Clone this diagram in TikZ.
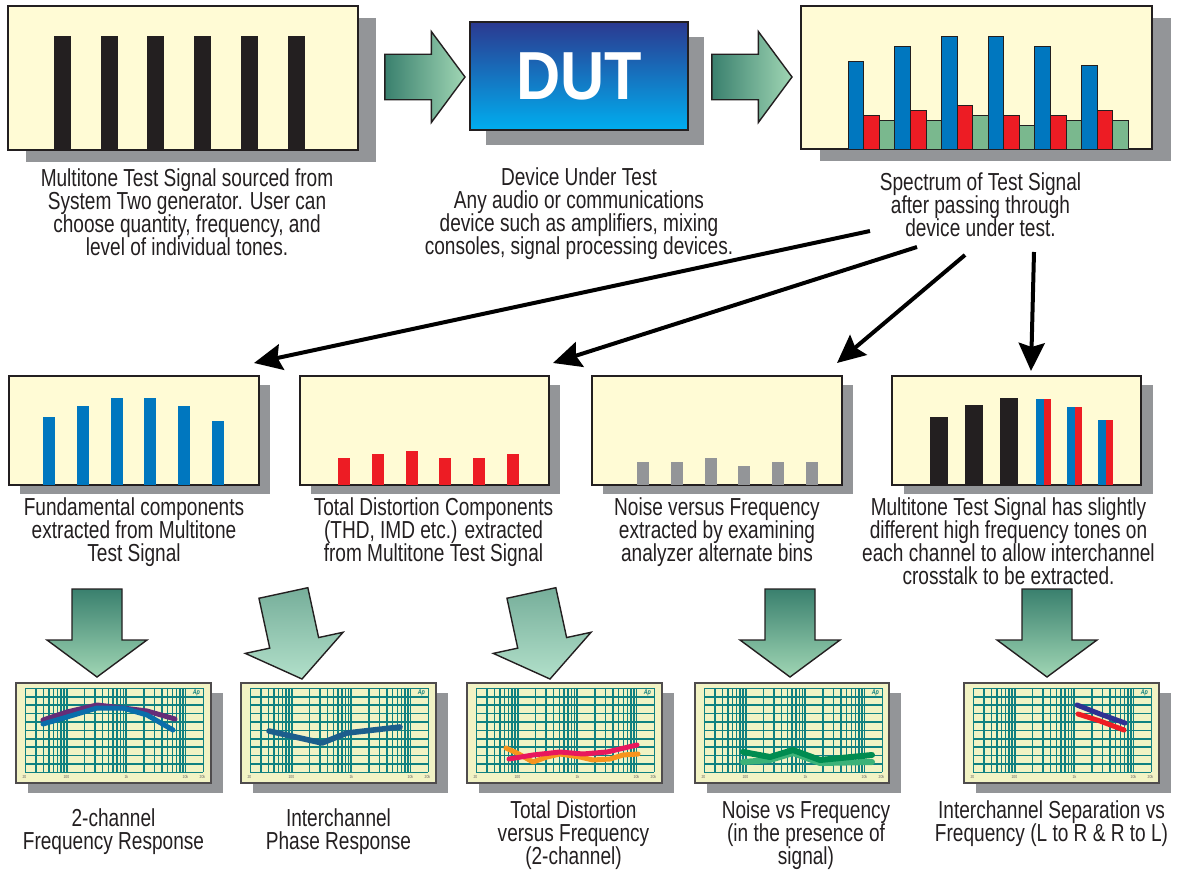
\documentclass[tikz,border=0pt]{standalone}
\usepackage{fontspec}
\setmainfont{Liberation Sans}[FakeStretch=0.775]
\newfontfamily\dutfont{Liberation Sans}[FakeStretch=0.9]
\usetikzlibrary{arrows.meta,positioning,fit,shadows}

\definecolor{panelfill}{RGB}{255,251,213}
\definecolor{shadowgray}{RGB}{147,149,152}
\definecolor{inkgray}{RGB}{35,31,32}
\definecolor{toneblue}{RGB}{0,119,191}
\definecolor{tonered}{RGB}{237,28,36}
\definecolor{tonegreen}{RGB}{122,184,142}
\definecolor{chartfill}{RGB}{242,243,196}
\definecolor{gridteal}{RGB}{16,128,128}
\definecolor{dutdark}{RGB}{43,57,144}
\definecolor{dutmid}{RGB}{0,110,185}
\definecolor{dutlight}{RGB}{0,174,239}
\definecolor{arrowdark}{RGB}{58,128,110}
\definecolor{arrowlight}{RGB}{160,214,180}
\definecolor{tiltdark}{RGB}{118,174,154}
\definecolor{tiltlight}{RGB}{178,224,202}
\definecolor{tracepurple}{RGB}{102,45,120}
\definecolor{traceblue}{RGB}{10,110,170}
\definecolor{phaseblue}{RGB}{28,94,140}
\definecolor{traceorange}{RGB}{247,148,29}
\definecolor{tracepink}{RGB}{232,23,93}
\definecolor{tracegreen}{RGB}{0,140,80}
\definecolor{tracelime}{RGB}{60,178,120}
\definecolor{tracenavy}{RGB}{46,49,146}

% block arrow: tip, direction, size, shading
\newcommand{\blockarrow}[4]{%
  \shadedraw[blockarrow, #4, shift={#1}, rotate=#2, scale=#3]
    (0,0) -- (-37,50) -- (-37,25) -- (-88,25) -- (-88,-25) -- (-37,-25) -- (-37,-50) -- cycle;}

% log grid of an analyzer plot, drawn inside chart node #1
\newcommand{\chartgrid}[1]{%
  \begin{scope}[shift={(#1.north west)}]
    \foreach \k in {0,...,10}
      \draw[gridline] (10,{6+8.4*\k}) -- (188,{6+8.4*\k});
    \foreach \d in {1,2,3,4}
      \foreach \m in {1,...,9} {
        \pgfmathsetmacro{\gx}{10+178*(\d-1.30103+log10(\m))/3}
        \ifdim\gx pt>9pt \ifdim\gx pt<189pt
          \draw[gridline] (\gx,6) -- (\gx,90);
        \fi\fi
      }
    \node[logo] (#1-ap) at (181,10) {Ap};
    \node[ticklabel] (#1-t1) at (9,95) {20};
    \node[ticklabel] (#1-t2) at (51,95) {100};
    \node[ticklabel] (#1-t3) at (111,95) {1k};
    \node[ticklabel] (#1-t4) at (170,95) {10k};
    \node[ticklabel] (#1-t5) at (187,95) {20k};
  \end{scope}}

\begin{document}
\lineskiplimit=-100pt
\begin{tikzpicture}
[x=0.5pt, y=-0.5pt, font=\fontsize{12.3}{11.4}\selectfont, text=inkgray,
% STYLES
panel/.style={rectangle, draw=inkgray, line width=0.6pt, fill=panelfill, inner sep=0pt},
chartbox/.style={rectangle, draw=inkgray!80, line width=0.6pt, fill=chartfill, inner sep=0pt},
dutbox/.style={rectangle, draw=inkgray, line width=0.6pt, inner sep=0pt, top color=dutdark, middle color=dutmid, bottom color=dutlight},
dutlabel/.style={inner sep=0pt, text=white, font={\dutfont\bfseries\fontsize{34}{34}\selectfont}},
% gray shadow behind every box
boxshadow/.style 2 args={drop shadow={shadow xshift=#1, shadow yshift=#2, fill=shadowgray, opacity=1}},
caption/.style={align=center, inner sep=0pt},
blockarrow/.style={draw=inkgray, line width=0.7pt, line join=miter},
signal/.style={-{Stealth[length=14pt, width=13pt, inset=2pt]}, line width=2pt, draw=black},
specbar/.style={draw=inkgray, line width=0.4pt},
gridline/.style={draw=gridteal, line width=0.75pt},
trace/.style={line width=2.5pt, line join=round, line cap=round},
logo/.style={inner sep=0pt, text=gridteal, font=\fontsize{3.5}{4}\selectfont\bfseries\itshape},
ticklabel/.style={inner sep=0pt, text=inkgray!70, font=\fontsize{2.2}{3}\selectfont}]

\useasboundingbox (0,0) rectangle (1178,871);

% Top row
\node [panel, boxshadow={9pt}{-6pt}, fit={(8,6) (358,150)}] (source) {};
\node [dutbox, boxshadow={8pt}{-7.5pt}, fit={(470,22) (688,130)}] (dut) {};
\node [dutlabel] (dut-label) at (dut.center) {DUT};
\node [panel, boxshadow={9.5pt}{-6pt}, fit={(801,6) (1152,149)}] (spectrum) {};

\foreach \i in {0,...,5}
  \fill[inkgray] ({54+46.7*\i},36) rectangle ({71+46.7*\i},150);

\foreach \i/\b/\r/\g in {0/61/115/120, 1/46/110/120, 2/36/105/115, 3/36/115/125, 4/46/115/120, 5/65/110/120} {
  \draw[specbar, fill=toneblue] ({848+46.7*\i},\b) rectangle ({863.6+46.7*\i},149);
  \draw[specbar, fill=tonered] ({863.6+46.7*\i},\r) rectangle ({879.2+46.7*\i},149);
  \draw[specbar, fill=tonegreen] ({879.2+46.7*\i},\g) rectangle ({894.8+46.7*\i},149);
}

\node [caption, below=9pt of source, xshift=2pt] (source-text) {Multitone Test Signal sourced from\\
System Two generator. User can\\
choose quantity, frequency, and\\
level of individual tones.};
\node [caption, below=18.5pt of dut] (dut-text) {Device Under Test\\
Any audio or communications\\
device such as amplifiers, mixing\\
consoles, signal processing devices.};
\node [caption, below=11.5pt of spectrum, xshift=2pt] (spectrum-text) {Spectrum of Test Signal\\
after passing through\\
device under test.};

\blockarrow{(465,77)}{0}{0.91}{left color=arrowdark, right color=arrowlight}
\blockarrow{(792,77)}{0}{0.91}{left color=arrowdark, right color=arrowlight}

% Middle row
\node [panel, boxshadow={5.5pt}{-4.5pt}, fit={(9,376) (259,485)}] (fundamental) {};
\node [panel, boxshadow={5.5pt}{-4.5pt}, fit={(300,376) (549,485)}] (distortion) {};
\node [panel, boxshadow={5.5pt}{-4.5pt}, fit={(592,376) (842,485)}] (noise) {};
\node [panel, boxshadow={6pt}{-4.5pt}, fit={(892,376) (1141,485)}] (crosstalk) {};

\foreach \i/\t in {0/417, 1/406, 2/398, 3/398, 4/406, 5/421}
  \fill[toneblue] ({43+33.8*\i},\t) rectangle ({55+33.8*\i},485);
\foreach \i/\t in {0/458, 1/454, 2/451, 3/458, 4/458, 5/454}
  \fill[tonered] ({338+33.8*\i},\t) rectangle ({350+33.8*\i},485);
\foreach \i/\t in {0/462, 1/462, 2/458, 3/466, 4/462, 5/462}
  \fill[shadowgray] ({637+33.8*\i},\t) rectangle ({649+33.8*\i},485);
\foreach \i/\t in {0/417, 1/405, 2/398}
  \draw[specbar, fill=inkgray] ({930+35*\i},\t) rectangle ({947+35*\i},485);
\foreach \i/\t in {0/399, 1/407, 2/420} {
  \fill[toneblue] ({1036+31*\i},\t) rectangle ({1043.5+31*\i},485);
  \fill[tonered] ({1043.5+31*\i},\t) rectangle ({1051+31*\i},485);
}

\node [caption, below=6pt of fundamental] (fundamental-text) {Fundamental components\\
extracted from Multitone\\
Test Signal};
\node [caption, below=6pt of distortion, xshift=4.5pt] (distortion-text) {Total Distortion Components\\
(THD, IMD etc.) extracted\\
from Multitone Test Signal};
\node [caption, below=6pt of noise] (noise-text) {Noise versus Frequency\\
extracted by examining\\
analyzer alternate bins};
\node [caption, below=6pt of crosstalk, xshift=-4pt] (crosstalk-text) {Multitone Test Signal has slightly\\
different high frequency tones on\\
each channel to allow interchannel\\
crosstalk to be extracted.};

% Spectrum split into the four measurements
\coordinate (fromA) at (870,231);
\coordinate (fromB) at (917,247);
\coordinate (fromC) at (965,255);
\coordinate (fromD) at (1034,252);
\coordinate (toA) at (254,363);
\coordinate (toB) at (553,363);
\coordinate (toC) at (837,363);
\coordinate (toD) at (1031,371);
\draw[signal] (fromA) -- (toA);
\draw[signal] (fromB) -- (toB);
\draw[signal] (fromC) -- (toC);
\draw[signal] (fromD) -- (toD);

% Bottom row
\node [chartbox, boxshadow={6pt}{-5pt}, fit={(16,683) (211,783)}] (freqresp) {};
\node [chartbox, boxshadow={6pt}{-5pt}, fit={(241,683) (436,783)}] (phase) {};
\node [chartbox, boxshadow={6pt}{-5pt}, fit={(467,683) (662,783)}] (thd) {};
\node [chartbox, boxshadow={6pt}{-5pt}, fit={(695,683) (889,783)}] (noisefreq) {};
\node [chartbox, boxshadow={6pt}{-5pt}, fit={(964,683) (1159,783)}] (separation) {};

\chartgrid{freqresp}
\chartgrid{phase}
\chartgrid{thd}
\chartgrid{noisefreq}
\chartgrid{separation}

\draw[trace, draw=tracepurple] (43,720) -- (67,712) -- (97,705) -- (123,708) -- (147,711) -- (175,719);
\draw[trace, draw=traceblue] (43,724) -- (67,717) -- (97,708) -- (123,708) -- (147,715) -- (173,730);
\draw[trace, draw=phaseblue, line width=2.8pt] (269,731) -- (322,743) -- (347,733) -- (400,727);
\draw[trace, draw=traceorange] (506,748) -- (517,753) -- (533,762) -- (547,757) -- (560,754) -- (580,757) -- (593,760) -- (610,759) -- (623,755) -- (638,754);
\draw[trace, draw=tracepink] (509,759) -- (533,755) -- (560,752) -- (583,754) -- (607,752) -- (637,745);
\draw[trace, draw=tracelime, line width=3pt] (743,762) -- (770,760) -- (793,753) -- (820,763) -- (872,762);
\draw[trace, draw=tracegreen, line width=3pt] (743,752) -- (770,757) -- (793,750) -- (820,760) -- (872,755);
\draw[trace, draw=tonered] (1078,714) -- (1100,721) -- (1124,730);
\draw[trace, draw=tracenavy] (1077,705) -- (1100,714) -- (1125,723);

\blockarrow{(97,677)}{-90}{1}{top color=arrowdark, bottom color=arrowlight}
\blockarrow{(302,679)}{-77.8}{1}{top color=tiltdark, bottom color=tiltlight}
\blockarrow{(550,679)}{-77.8}{1}{top color=tiltdark, bottom color=tiltlight}
\blockarrow{(790,677)}{-90}{1}{top color=arrowdark, bottom color=arrowlight}
\blockarrow{(1047,677)}{-90}{1}{top color=arrowdark, bottom color=arrowlight}

\node [caption, below=12.5pt of freqresp] (freqresp-text) {2-channel\\
Frequency Response};
\node [caption, below=12.5pt of phase] (phase-text) {Interchannel\\
Phase Response};
\node [caption, below=8.5pt of thd, xshift=4.5pt] (thd-text) {Total Distortion\\
versus Frequency\\
(2-channel)};
\node [caption, below=8.5pt of noisefreq, xshift=7pt] (noisefreq-text) {Noise vs Frequency\\
(in the presence of\\
signal)};
\node [caption, below=8.5pt of separation, xshift=-5pt] (separation-text) {Interchannel Separation vs\\
Frequency (L to R \& R to L)};

\end{tikzpicture}
\end{document}
